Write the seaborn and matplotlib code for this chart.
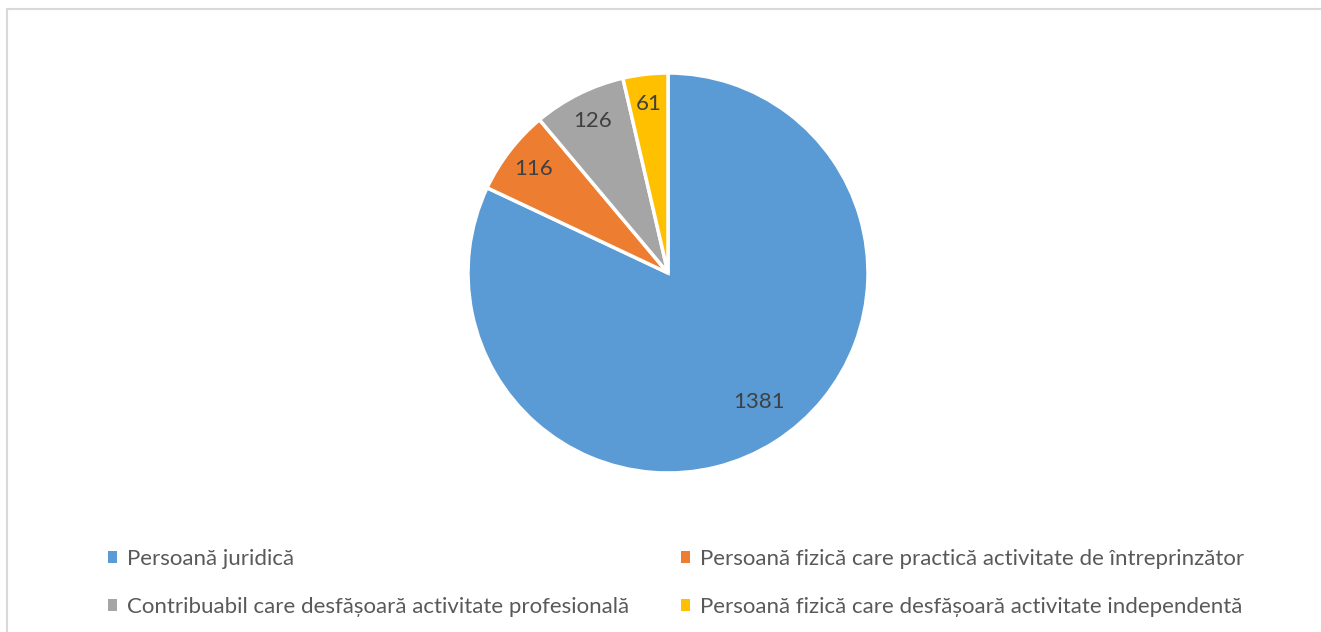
import matplotlib
matplotlib.use("Agg")
import matplotlib.pyplot as plt
from matplotlib.patches import Patch
from matplotlib.lines import Line2D
import seaborn as sns

categories = [
    "Persoană juridică",
    "Persoană fizică care practică activitate de întreprinzător",
    "Contribuabil care desfășoară activitate profesională",
    "Persoană fizică care desfășoară activitate independentă",
]
values = [1381, 116, 126, 61]
colors = ["#5B9BD5", "#ED7D31", "#A5A5A5", "#FFC000"]

sns.set_theme(style="white")
plt.rcParams["font.family"] = ["Lato", "DejaVu Sans"]

W, H = 1321, 632
fig = plt.figure(figsize=(W / 100, H / 100), dpi=100)

# chart frame (only top and left edges visible in the crop)
fig.add_artist(Line2D([7 / W, 1.0], [1 - 9 / H, 1 - 9 / H], color="#D9D9D9", lw=1.5))
fig.add_artist(Line2D([7 / W, 7 / W], [0.0, 1 - 9 / H], color="#D9D9D9", lw=1.5))

cx, cy, r = 668, 273, 202
ax = fig.add_axes([(cx - r) / W, (H - cy - r) / H, 2 * r / W, 2 * r / H])
wedges, texts = ax.pie(
    values,
    colors=colors,
    startangle=90,
    counterclock=False,
    labels=[str(v) for v in values],
    labeldistance=0.85,
    wedgeprops=dict(edgecolor="white", linewidth=2.5),
    textprops=dict(color="#404040", fontsize=16),
)
for t in texts:
    t.set_horizontalalignment("center")
    t.set_verticalalignment("center")
# big slice label sits a bit closer to the centre
x0, y0 = texts[0].get_position()
texts[0].set_position((x0 * 1.0, y0 * 0.9))
ax.set_xlim(-1.01, 1.01)
ax.set_ylim(-1.01, 1.01)
ax.set_aspect("equal")
ax.axis("off")

handles = [Patch(facecolor=c, edgecolor="none") for c in colors]
order = [0, 2, 1, 3]
fig.legend(
    [handles[i] for i in order],
    [categories[i] for i in order],
    ncol=2,
    loc="upper left",
    bbox_to_anchor=(88 / W, 1 - 529 / H),
    frameon=False,
    fontsize=16,
    labelcolor="#595959",
    handlelength=0.42,
    handleheight=0.42,
    handletextpad=0.45,
    columnspacing=2.3,
    labelspacing=1.25,
)

fig.savefig("out.png", dpi=100, facecolor="white")
